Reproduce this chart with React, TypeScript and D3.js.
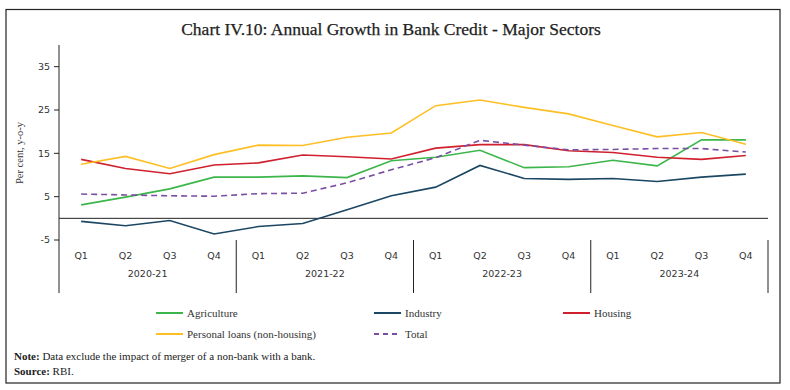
import React, { useEffect, useRef } from 'react'
import * as d3 from 'd3'

const years = ['2020-21', '2021-22', '2022-23', '2023-24']
const quarters = ['Q1', 'Q2', 'Q3', 'Q4']
const yTicks = [-5, 5, 15, 25, 35]

const agriculture = [3.1, 4.9, 6.8, 9.5, 9.5, 9.8, 9.4, 13.3, 14.1, 15.7, 11.7, 11.9, 13.4, 12.1, 18.1, 18.1]
const industry = [-0.7, -1.7, -0.5, -3.6, -1.9, -1.2, 2.0, 5.2, 7.2, 12.2, 9.2, 9.0, 9.2, 8.5, 9.5, 10.2]
const housing = [13.6, 11.5, 10.3, 12.3, 12.8, 14.6, 14.2, 13.7, 16.2, 17.0, 17.0, 15.6, 15.2, 14.1, 13.6, 14.5]
const personal = [12.5, 14.3, 11.5, 14.7, 16.9, 16.8, 18.7, 19.7, 26.0, 27.3, 25.6, 24.1, 21.4, 18.8, 19.8, 17.1]
const total = [5.6, 5.4, 5.2, 5.1, 5.7, 5.8, 8.2, 11.2, 14.0, 18.0, 16.9, 15.8, 15.9, 16.1, 16.1, 15.3]

const series = [
  { name: 'Agriculture', values: agriculture, color: '#3cb64b', dash: '' },
  { name: 'Industry', values: industry, color: '#1b4763', dash: '' },
  { name: 'Housing', values: housing, color: '#d0202e', dash: '' },
  { name: 'Personal loans (non-housing)', values: personal, color: '#fdbf24', dash: '' },
  { name: 'Total', values: total, color: '#7a4ea3', dash: '6,4' },
]

export default function App() {
  const svgRef = useRef<SVGSVGElement>(null)
  const width = 790
  const height = 390

  useEffect(() => {
    const svg = d3.select(svgRef.current)
    svg.selectAll('*').remove()

    const serif = '"Liberation Serif", serif'
    const sans = '"DejaVu Sans", sans-serif'

    const left = 59
    const right = 768
    const catTop = 240
    const catBottom = 293

    const keys = years.flatMap(y => quarters.map(q => y + ' ' + q))
    const x = d3.scaleBand().domain(keys).range([left, right])
    const cx = (i: number) => (x(keys[i]) as number) + x.bandwidth() / 2
    const y = d3.scaleLinear().domain([-5, 40]).range([catTop, 45])

    // frame
    svg.append('rect')
      .attr('x', 6).attr('y', 9.5).attr('width', 774).attr('height', 373.5)
      .attr('fill', '#fff').attr('stroke', '#222').attr('stroke-width', 1.2)

    svg.append('text')
      .attr('x', 391).attr('y', 35)
      .attr('text-anchor', 'middle')
      .attr('font-family', serif).attr('font-size', 17.5)
      .attr('fill', '#222').attr('stroke', '#222').attr('stroke-width', 0.25)
      .text('Chart IV.10: Annual Growth in Bank Credit - Major Sectors')

    // y axis
    svg.append('line')
      .attr('x1', left).attr('x2', left).attr('y1', 45).attr('y2', catBottom)
      .attr('stroke', '#222').attr('stroke-width', 1)

    yTicks.forEach(t => {
      svg.append('line')
        .attr('x1', left - 5).attr('x2', left).attr('y1', y(t)).attr('y2', y(t))
        .attr('stroke', '#222')
      svg.append('text')
        .attr('x', left - 9).attr('y', y(t)).attr('dy', '0.35em')
        .attr('text-anchor', 'end')
        .attr('font-family', sans).attr('font-size', 9.5).attr('fill', '#333')
        .text(t)
    })

    svg.append('text')
      .attr('transform', `translate(23,${153}) rotate(-90)`)
      .attr('text-anchor', 'middle')
      .attr('font-family', serif).attr('font-size', 10.5).attr('fill', '#333')
      .text('Per cent, y-o-y')

    // zero line
    svg.append('line')
      .attr('x1', left).attr('x2', right).attr('y1', y(0)).attr('y2', y(0))
      .attr('stroke', '#222').attr('stroke-width', 1)

    // category axis
    years.forEach((yr, j) => {
      const x0 = x(keys[j * 4]) as number
      const x1 = (x(keys[j * 4 + 3]) as number) + x.bandwidth()
      svg.append('line')
        .attr('x1', x1).attr('x2', x1).attr('y1', catTop).attr('y2', catBottom)
        .attr('stroke', '#222')
      svg.append('text')
        .attr('x', (x0 + x1) / 2).attr('y', 277)
        .attr('text-anchor', 'middle')
        .attr('font-family', sans).attr('font-size', 9.5).attr('fill', '#333')
        .text(yr)
    })
    keys.forEach((k, i) => {
      svg.append('text')
        .attr('x', cx(i)).attr('y', 259)
        .attr('text-anchor', 'middle')
        .attr('font-family', sans).attr('font-size', 9.5).attr('fill', '#333')
        .text(quarters[i % 4])
    })

    // lines
    const line = d3.line<number>().x((_, i) => cx(i)).y(d => y(d))
    series.forEach(s => {
      svg.append('path')
        .datum(s.values)
        .attr('d', line)
        .attr('fill', 'none')
        .attr('stroke', s.color)
        .attr('stroke-width', 1.6)
        .attr('stroke-dasharray', s.dash || null)
    })

    // legend
    const legendPos = [
      { x: 156, y: 313 },
      { x: 374, y: 313 },
      { x: 563, y: 313 },
      { x: 156, y: 334 },
      { x: 374, y: 334 },
    ]
    series.forEach((s, i) => {
      const p = legendPos[i]
      svg.append('line')
        .attr('x1', p.x).attr('x2', p.x + 27).attr('y1', p.y).attr('y2', p.y)
        .attr('stroke', s.color).attr('stroke-width', 2)
        .attr('stroke-dasharray', s.dash ? '5,4' : null)
      svg.append('text')
        .attr('x', p.x + 31).attr('y', p.y).attr('dy', '0.35em')
        .attr('font-family', serif).attr('font-size', 11).attr('fill', '#333')
        .text(s.name)
    })

    const note = svg.append('text')
      .attr('x', 14).attr('y', 360)
      .attr('font-family', serif).attr('font-size', 11).attr('fill', '#222')
    note.append('tspan').attr('font-weight', 'bold').text('Note:')
    note.append('tspan').text(' Data exclude the impact of merger of a non-bank with a bank.')

    const src = svg.append('text')
      .attr('x', 14).attr('y', 375)
      .attr('font-family', serif).attr('font-size', 11).attr('fill', '#222')
    src.append('tspan').attr('font-weight', 'bold').text('Source:')
    src.append('tspan').text(' RBI.')
  }, [])

  return (
    <div style={{ position: 'absolute', left: 0, top: 0 }}>
      <svg ref={svgRef} width={width} height={height} style={{ display: 'block', background: '#fff' }} />
    </div>
  )
}
